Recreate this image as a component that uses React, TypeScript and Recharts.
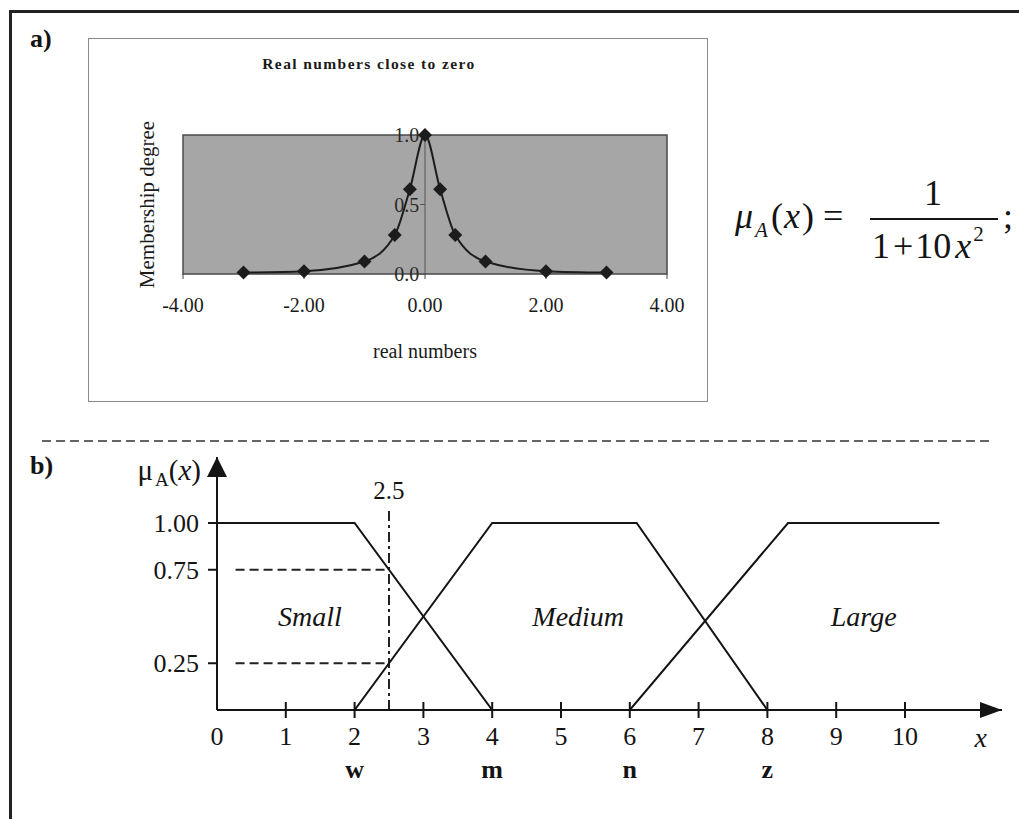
import React from "react";
import {
  LineChart, ComposedChart, Line, XAxis, YAxis, ReferenceArea, ReferenceLine, ReferenceDot,
} from "recharts";

const SERIF = '"Liberation Serif", "Times New Roman", serif';
const INK = "#141414";

// a) real numbers close to zero
const REAL_X = [-3, -2, -1, -0.5, -0.25, 0, 0.25, 0.5, 1, 2, 3];
const MEMBERSHIP = [0.01, 0.02, 0.09, 0.28, 0.61, 1, 0.61, 0.28, 0.09, 0.02, 0.01];
const REAL_TICKS = [-4, -2, 0, 2, 4];
const DEGREE_TICKS = [0, 0.5, 1];

// b) fuzzy sets Small / Medium / Large
const SMALL_X = [0, 2, 4];
const SMALL_MU = [1, 1, 0];
const MEDIUM_X = [2, 4, 6.1, 8];
const MEDIUM_MU = [0, 1, 1, 0];
const LARGE_X = [6, 8.3, 10.5];
const LARGE_MU = [0, 1, 1];
const X_TICKS = [0, 1, 2, 3, 4, 5, 6, 7, 8, 9, 10];
const MU_TICKS = [0.25, 0.75, 1];
const POINT_NAMES: Record<number, string> = { 2: "w", 4: "m", 6: "n", 8: "z" };
const CUT_X = 2.5;
const CUT_LEVELS = [0.75, 0.25];
const X_END = 11.41;
const MU_END = 1.353;

const toPoints = (xs: number[], ys: number[]) => xs.map((x, i) => ({ x, mu: ys[i] }));

const closeToZero = toPoints(REAL_X, MEMBERSHIP);
const small = toPoints(SMALL_X, SMALL_MU);
const medium = toPoints(MEDIUM_X, MEDIUM_MU);
const large = toPoints(LARGE_X, LARGE_MU);

const smallText = { fontFamily: SERIF, fontSize: 20, fill: "#1a1a1a" };

function Diamond(props: any) {
  const { cx, cy, index } = props;
  if (cx == null || cy == null) return null;
  return (
    <path
      key={index}
      d={`M${cx},${cy - 7} L${cx + 7},${cy} L${cx},${cy + 7} L${cx - 7},${cy} Z`}
      fill="#1c1c1c"
    />
  );
}

function CloseToZeroChart() {
  return (
    <LineChart width={618} height={362} data={closeToZero} margin={{ top: 96, right: 40, bottom: 37, left: 0 }}>
      <XAxis
        type="number"
        dataKey="x"
        domain={[-4, 4]}
        ticks={REAL_TICKS}
        interval={0}
        tickFormatter={(v: number) => v.toFixed(2)}
        height={90}
        axisLine={false}
        tickLine={{ stroke: "#444" }}
        tickSize={5}
        tickMargin={19}
        tick={smallText}
        label={{ value: "real numbers", position: "insideBottom", offset: 6, style: smallText }}
      />
      <YAxis
        type="number"
        domain={[0, 1]}
        width={94}
        tick={false}
        axisLine={false}
        tickLine={false}
        label={{ value: "Membership degree", angle: -90, position: "insideLeft", offset: 58, style: { ...smallText, textAnchor: "middle", fontSize: 21 } }}
      />
      <ReferenceArea x1={-4} x2={4} y1={0} y2={1} fill="#a6a6a6" fillOpacity={1} stroke="#4a4a4a" strokeWidth={1.5} />
      <ReferenceLine x={0} stroke="#555" strokeWidth={1} />
      {DEGREE_TICKS.map((v) => (
        <ReferenceLine
          key={v}
          segment={[{ x: -0.08, y: v }, { x: 0, y: v }]}
          stroke="#555"
          label={{ value: v.toFixed(1), position: "left", offset: 1, style: { ...smallText, fill: "#2a2a2a" } }}
        />
      ))}
      <Line type="monotone" dataKey="mu" stroke="#1c1c1c" strokeWidth={2} dot={Diamond} isAnimationActive={false} />
    </LineChart>
  );
}

function NumberTick(props: any) {
  const { x, y, payload } = props;
  const axisY = y - 17;
  const name = POINT_NAMES[payload.value];
  return (
    <g>
      {payload.value !== 0 && <line x1={x} x2={x} y1={axisY - 8} y2={axisY + 8} stroke={INK} strokeWidth={2} />}
      <text x={x} y={y} dy="0.71em" textAnchor="middle" fontFamily={SERIF} fontSize={26} fill={INK}>
        {payload.value}
      </text>
      {name && (
        <text x={x} y={y + 33} dy="0.71em" textAnchor="middle" fontFamily={SERIF} fontSize={26} fontWeight="bold" fill={INK}>
          {name}
        </text>
      )}
    </g>
  );
}

function XArrow(props: any) {
  const { cx, cy } = props;
  return <path d={`M${cx},${cy} L${cx - 22},${cy - 8} L${cx - 22},${cy + 8} Z`} fill={INK} />;
}

function YArrow(props: any) {
  const { cx, cy } = props;
  return (
    <g>
      <path d={`M${cx},${cy} L${cx - 10},${cy + 20} L${cx + 10},${cy + 20} Z`} fill={INK} />
      <text x={cx - 16} y={cy + 23} textAnchor="end" fontFamily={SERIF} fontSize={29} fill={INK}>
        <tspan>μ</tspan>
        <tspan fontSize={19} dx={2} dy={6}>A</tspan>
        <tspan dy={-6}>(</tspan>
        <tspan fontStyle="italic">x</tspan>
        <tspan>)</tspan>
      </text>
    </g>
  );
}

const setLabel = (value: string) => ({
  value,
  position: "center" as const,
  style: { fontFamily: SERIF, fontSize: 28, fontStyle: "italic", fill: INK },
});

function FuzzySetsChart() {
  const line = { dataKey: "mu", type: "linear" as const, stroke: INK, strokeWidth: 2, dot: false, isAnimationActive: false };
  return (
    <ComposedChart width={1019} height={379} margin={{ top: 17, right: 17, bottom: 29, left: 117 }}>
      <XAxis
        type="number"
        dataKey="x"
        domain={[0, X_END]}
        allowDataOverflow
        ticks={X_TICKS}
        interval={0}
        height={80}
        axisLine={{ stroke: INK, strokeWidth: 2 }}
        tickLine={false}
        tickSize={6}
        tickMargin={11}
        tick={<NumberTick />}
      />
      <YAxis
        type="number"
        domain={[0, MU_END]}
        allowDataOverflow
        ticks={MU_TICKS}
        interval={0}
        tickFormatter={(v: number) => v.toFixed(2)}
        width={100}
        axisLine={{ stroke: INK, strokeWidth: 2 }}
        tickLine={{ stroke: INK, strokeWidth: 2 }}
        tickSize={9}
        tickMargin={9}
        tick={{ fontFamily: SERIF, fontSize: 26, fill: INK }}
      />
      {CUT_LEVELS.map((lvl) => (
        <ReferenceLine key={lvl} segment={[{ x: 0.27, y: lvl }, { x: CUT_X, y: lvl }]} stroke="#222" strokeWidth={2} strokeDasharray="9 5" />
      ))}
      <ReferenceLine
        segment={[{ x: CUT_X, y: 0 }, { x: CUT_X, y: 1.08 }]}
        stroke="#222"
        strokeWidth={2}
        strokeDasharray="10 4 3 4"
        label={{ value: String(CUT_X), position: "top", offset: 9, style: { fontFamily: SERIF, fontSize: 25, fill: INK } }}
      />
      <Line data={small} {...line} />
      <Line data={medium} {...line} />
      <Line data={large} {...line} />
      <ReferenceDot x={1.35} y={0.5} r={0} fill="none" stroke="none" label={setLabel("Small")} />
      <ReferenceDot x={5.25} y={0.5} r={0} fill="none" stroke="none" label={setLabel("Medium")} />
      <ReferenceDot x={9.4} y={0.5} r={0} fill="none" stroke="none" label={setLabel("Large")} />
      <ReferenceDot
        x={11.1}
        y={0}
        r={0}
        fill="none"
        stroke="none"
        label={{ value: "x", position: "bottom", offset: 17, style: { fontFamily: SERIF, fontSize: 28, fontStyle: "italic", fill: INK } }}
      />
      <ReferenceDot x={X_END} y={0} shape={XArrow} />
      <ReferenceDot x={0} y={MU_END} shape={YArrow} />
    </ComposedChart>
  );
}

function Formula() {
  return (
    <svg width={300} height={120} style={{ position: "absolute", left: 720, top: 170 }}>
      <text x={15} y={58} fontFamily={SERIF} fontSize={36} fill={INK}>
        <tspan fontStyle="italic">μ</tspan>
        <tspan fontSize={21} fontStyle="italic" dx={2} dy={9}>A</tspan>
        <tspan dx={3} dy={-9}>(</tspan>
        <tspan fontStyle="italic" dx={1}>x</tspan>
        <tspan dx={2}>)</tspan>
        <tspan dx={9}>=</tspan>
      </text>
      <line x1={150} x2={278} y1={49} y2={49} stroke={INK} strokeWidth={2} />
      <text x={213} y={35} textAnchor="middle" fontFamily={SERIF} fontSize={36} fill={INK}>1</text>
      <text x={152} y={88} fontFamily={SERIF} fontSize={36} fill={INK}>
        <tspan>1</tspan>
        <tspan dx={3}>+</tspan>
        <tspan dx={2}>10</tspan>
        <tspan fontStyle="italic" dx={4}>x</tspan>
        <tspan fontSize={21} dx={2} dy={-17}>2</tspan>
      </text>
      <text x={283} y={58} fontFamily={SERIF} fontSize={36} fill={INK}>;</text>
    </svg>
  );
}

export default function App() {
  return (
    <div style={{ position: "absolute", left: 0, top: 0, width: 1019, height: 819, background: "#fff", fontFamily: SERIF, overflow: "hidden" }}>
      <div style={{ position: "absolute", left: 9, top: 10, width: 1010, height: 809, borderTop: "3px solid #222", borderLeft: "3px solid #222", boxSizing: "border-box" }} />
      <div style={{ position: "absolute", left: 30, top: 24, fontSize: 26, fontWeight: "bold", color: INK }}>a)</div>
      <div style={{ position: "absolute", left: 30, top: 451, fontSize: 26, fontWeight: "bold", color: INK }}>b)</div>

      <div style={{ position: "absolute", left: 88, top: 38, width: 620, height: 364, border: "1px solid #8a8a8a", boxSizing: "border-box" }}>
        <div style={{ position: "absolute", left: 80, width: 400, top: 16, textAlign: "center", fontSize: 15.5, fontWeight: "bold", letterSpacing: 1.4, color: "#1a1a1a" }}>
          Real numbers close to zero
        </div>
        <CloseToZeroChart />
      </div>

      <Formula />

      <svg width={1019} height={10} style={{ position: "absolute", left: 0, top: 436 }}>
        <line x1={42} x2={992} y1={5} y2={5} stroke="#333" strokeWidth={1.5} strokeDasharray="9 5" />
      </svg>

      <div style={{ position: "absolute", left: 0, top: 440 }}>
        <FuzzySetsChart />
      </div>
    </div>
  );
}
